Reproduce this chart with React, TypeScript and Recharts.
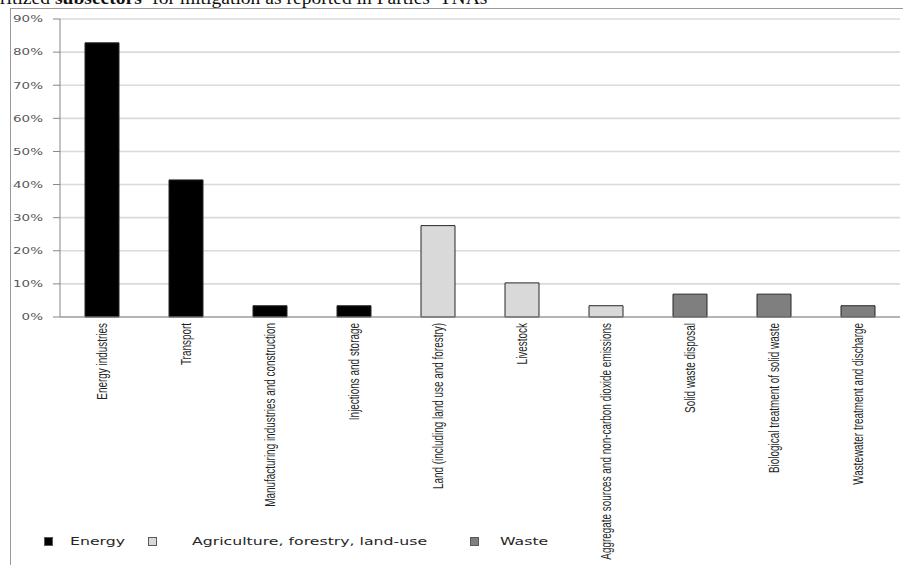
import { BarChart, Bar, XAxis, YAxis, CartesianGrid, Cell } from 'recharts';

// Subsectors in the order they are plotted, with the sector each belongs to
const subsectors = [
  'Energy industries',
  'Transport',
  'Manufacturing industries and construction',
  'Injections and storage',
  'Land (including land use and forestry)',
  'Livestock',
  'Aggregate sources and non-carbon dioxide emissions',
  'Solid waste disposal',
  'Biological treatment of solid waste',
  'Wastewater treatment and discharge',
];
const subsectorSector = [0, 0, 0, 0, 1, 1, 1, 2, 2, 2];
// share of Parties prioritizing each subsector (%)
const shares = [82.8, 41.4, 3.4, 3.4, 27.6, 10.3, 3.4, 6.9, 6.9, 3.4];

const sectors = ['Energy', 'Agriculture, forestry, land-use', 'Waste'];
const sectorFills = ['#000000', '#d9d9d9', '#7f7f7f'];

const yTicks = [0, 10, 20, 30, 40, 50, 60, 70, 80, 90];
const edgeTicks = [0, 1, 2, 3, 4, 5, 6, 7, 8, 9, 10];

const data = subsectors.map((name, i) => ({
  name,
  share: shares[i],
  sector: subsectorSector[i],
}));

const PercentTick = ({ x, y, payload }: any) => (
  <g transform={`translate(${x},${y}) scale(1.42,1)`}>
    <text textAnchor="end" dy="0.35em" fontSize={9.5} fontFamily="DejaVu Sans" fill="#595959">
      {payload.value}%
    </text>
  </g>
);

// rotated, condensed category labels reading bottom-to-top
const SubsectorTick = ({ x, y, payload }: any) => (
  <g transform={`translate(${x},${y})`}>
    <text
      transform="rotate(-90) scale(0.71,1)"
      textAnchor="end"
      y={5}
      fontSize={14}
      fontFamily="Liberation Sans"
      fill="#1f1f1f"
    >
      {payload.value}
    </text>
  </g>
);

const legendSpots = [
  { box: 44, text: 70 },
  { box: 148, text: 192 },
  { box: 470, text: 500 },
];

export default function App() {
  return (
    <div
      style={{
        position: 'absolute',
        left: 0,
        top: 0,
        width: 903,
        height: 565,
        overflow: 'hidden',
        background: '#fff',
      }}
    >
      <div
        style={{
          position: 'absolute',
          left: 0,
          top: -14,
          whiteSpace: 'nowrap',
          fontFamily: 'Liberation Serif',
          fontSize: 19,
          color: '#111',
          transform: 'scaleX(1.03)',
          transformOrigin: 'left top',
        }}
      >
        ritized <b>subsectors</b>
        <sup style={{ fontSize: 12 }}>a</sup> for mitigation as reported in Parties’ TNAs
      </div>
      <div
        style={{
          position: 'absolute',
          left: 10,
          top: 8,
          width: 900,
          height: 570,
          borderLeft: '1.5px solid #9a9a9a',
          borderTop: '1.5px solid #9a9a9a',
        }}
      />
      <div style={{ position: 'absolute', left: 0, top: 0 }}>
        <BarChart width={903} height={565} data={data} margin={{ top: 19, right: 3, bottom: 0, left: 10 }}>
          <CartesianGrid horizontal vertical={false} stroke="#dadada" strokeWidth={1.6} xAxisId="cat" />
          <XAxis
            xAxisId="edges"
            type="number"
            domain={[0, 10]}
            ticks={edgeTicks}
            height={0}
            tick={false}
            tickSize={4}
            axisLine={false}
            tickLine={{ stroke: '#868686' }}
          />
          <XAxis
            xAxisId="cat"
            dataKey="name"
            interval={0}
            height={248}
            tickSize={0}
            tickMargin={6}
            tickLine={false}
            axisLine={{ stroke: '#868686' }}
            tick={<SubsectorTick />}
          />
          <YAxis
            domain={[0, 90]}
            ticks={yTicks}
            width={50}
            tickSize={7}
            tickMargin={10}
            axisLine={{ stroke: '#868686' }}
            tickLine={{ stroke: '#868686' }}
            tick={<PercentTick />}
          />
          <Bar dataKey="share" xAxisId="cat" barSize={34} stroke="#262626" strokeWidth={1} isAnimationActive={false}>
            {data.map((d, i) => (
              <Cell key={`cell-${i}`} fill={sectorFills[d.sector]} />
            ))}
          </Bar>
        </BarChart>
      </div>
      {sectors.map((s, i) => (
        <div key={s}>
          <div
            style={{
              position: 'absolute',
              left: legendSpots[i].box,
              top: 537,
              width: 9,
              height: 9,
              background: sectorFills[i],
              border: '1px solid #595959',
              boxSizing: 'border-box',
            }}
          />
          <div
            style={{
              position: 'absolute',
              left: legendSpots[i].text,
              top: 535,
              whiteSpace: 'nowrap',
              fontFamily: 'DejaVu Sans',
              fontSize: 11,
              lineHeight: '14px',
              color: '#262626',
              transform: 'scaleX(1.43)',
              transformOrigin: 'left center',
            }}
          >
            {s}
          </div>
        </div>
      ))}
    </div>
  );
}
